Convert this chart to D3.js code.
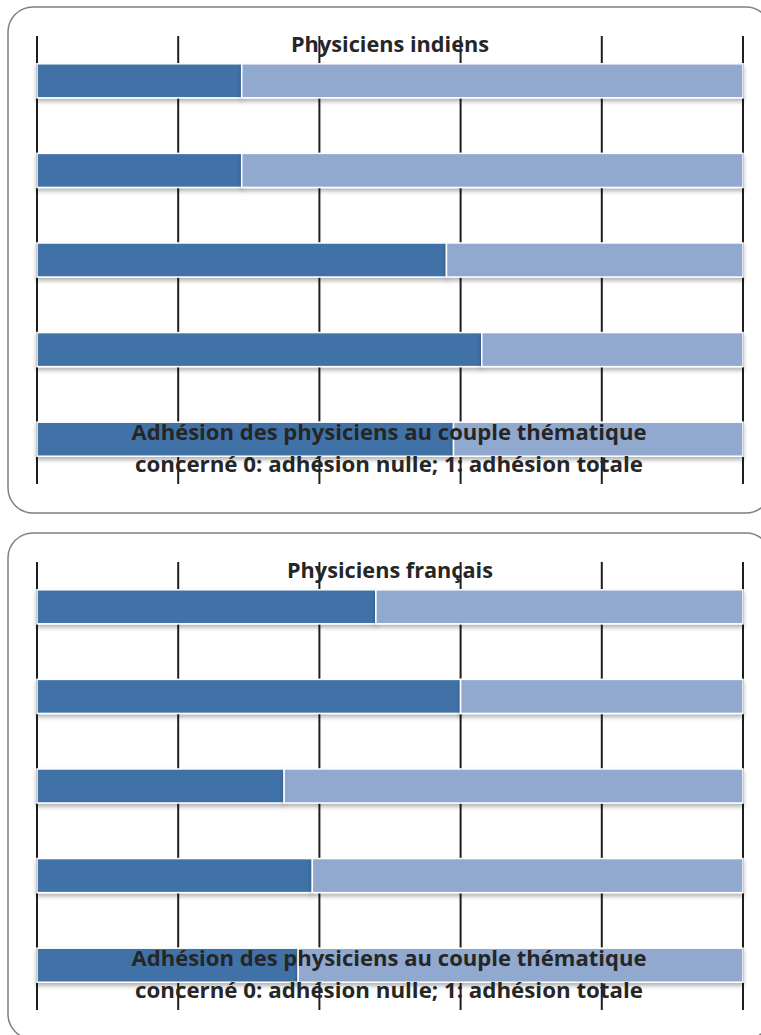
<!DOCTYPE html>
<html>
<head>
    <meta charset="utf-8">
    <title>Adhésion des physiciens</title>
    <script src="https://d3js.org/d3.v7.min.js"></script>
    <style>
        body { margin: 0; background: #fff; }
        .title, .axis-title {
            font-family: "Open Sans", "DejaVu Sans", sans-serif;
            font-weight: bold;
            fill: #262626;
        }
    </style>
</head>
<body>
    <svg id="chart" width="761" height="1035"></svg>

    <script>
        // Couples thématiques (no labels in the figure, one bar per couple)
        const couples = ['C1', 'C2', 'C3', 'C4', 'C5'];

        // Adhésion (0..1)
        const indiensValues = [0.29, 0.29, 0.58, 0.63, 0.59];
        const francaisValues = [0.48, 0.60, 0.35, 0.39, 0.37];

        const gridTicks = [0, 0.2, 0.4, 0.6, 0.8, 1];

        const panelTitles = ['Physiciens indiens', 'Physiciens français'];
        const axisTitleLines = [
            'Adhésion des physiciens au couple thématique',
            'concerné 0: adhésion nulle; 1: adhésion totale'
        ];

        const darkBlue = '#4072a8';
        const lightBlue = '#91a9cf';

        const svg = d3.select('#chart');

        // soft shadow under the bars
        const filter = svg.append('defs').append('filter')
            .attr('id', 'shadow')
            .attr('x', '-5%').attr('y', '-20%')
            .attr('width', '110%').attr('height', '160%');
        filter.append('feDropShadow')
            .attr('dx', 0).attr('dy', 3)
            .attr('stdDeviation', 2)
            .attr('flood-color', '#000')
            .attr('flood-opacity', 0.3);

        const xScale = d3.scaleLinear()
            .domain([0, 1])
            .range([37, 743]);

        function drawPanel(offsetY, title, values) {
            const g = svg.append('g').attr('transform', 'translate(0,' + offsetY + ')');

            // rounded frame
            g.append('rect')
                .attr('x', 8).attr('y', 7)
                .attr('width', 763).attr('height', 506)
                .attr('rx', 25).attr('ry', 25)
                .attr('fill', 'none')
                .attr('stroke', '#808080')
                .attr('stroke-width', 1.5);

            const yScale = d3.scaleBand()
                .domain(couples)
                .range([36, 484])
                .paddingInner(0.62)
                .paddingOuter(0.31);

            // vertical gridlines
            g.selectAll('.grid')
                .data(gridTicks)
                .enter()
                .append('line')
                .attr('class', 'grid')
                .attr('x1', d => xScale(d))
                .attr('x2', d => xScale(d))
                .attr('y1', 36)
                .attr('y2', 484)
                .attr('stroke', '#1e1e1e')
                .attr('stroke-width', 2);

            // stacked bars: adhésion + remainder
            const rows = g.selectAll('.row')
                .data(couples.map((c, i) => ({ c: c, v: values[i] })))
                .enter()
                .append('g')
                .attr('class', 'row');

            rows.append('rect')
                .attr('x', xScale(0))
                .attr('y', d => yScale(d.c))
                .attr('width', d => xScale(d.v) - xScale(0))
                .attr('height', yScale.bandwidth())
                .attr('fill', darkBlue)
                .attr('stroke', '#fff')
                .attr('stroke-width', 1.5)
                .attr('filter', 'url(#shadow)');

            rows.append('rect')
                .attr('x', d => xScale(d.v))
                .attr('y', d => yScale(d.c))
                .attr('width', d => xScale(1) - xScale(d.v))
                .attr('height', yScale.bandwidth())
                .attr('fill', lightBlue)
                .attr('stroke', '#fff')
                .attr('stroke-width', 1.5)
                .attr('filter', 'url(#shadow)');

            // panel title
            g.append('text')
                .attr('class', 'title')
                .attr('x', 390)
                .attr('y', 52)
                .attr('text-anchor', 'middle')
                .attr('font-size', 22)
                .attr('textLength', title === 'Physiciens indiens' ? 198 : 206)
                .attr('lengthAdjust', 'spacingAndGlyphs')
                .text(title);

            // axis title (two lines)
            const lineLengths = [515, 508];
            axisTitleLines.forEach(function (line, i) {
                g.append('text')
                    .attr('class', 'axis-title')
                    .attr('x', 389)
                    .attr('y', 440 + i * 32)
                    .attr('text-anchor', 'middle')
                    .attr('font-size', 22)
                    .attr('textLength', lineLengths[i])
                    .attr('lengthAdjust', 'spacingAndGlyphs')
                    .text(line);
            });
        }

        drawPanel(0, panelTitles[0], indiensValues);
        drawPanel(526, panelTitles[1], francaisValues);
    </script>
</body>
</html>
